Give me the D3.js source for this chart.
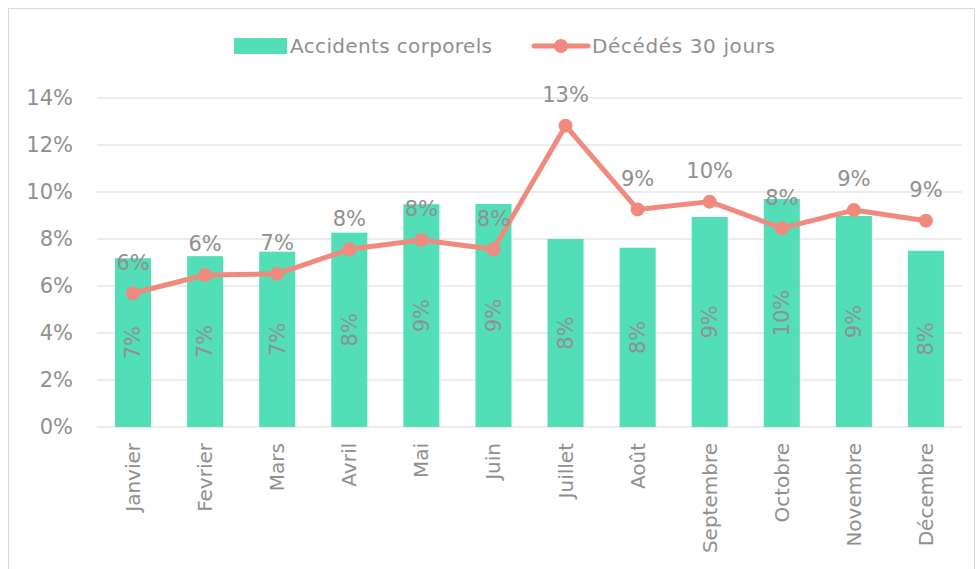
<!DOCTYPE html>
<html>
<head>
<meta charset="utf-8">
<script src="https://cdn.jsdelivr.net/npm/d3@7"></script>
<style>
  body { margin: 0; background: #fff; }
  text { font-family: "DejaVu Sans", Verdana, sans-serif; }
</style>
</head>
<body>
<svg width="978" height="569"></svg>
<script>
var months = ["Janvier", "Fevrier", "Mars", "Avril", "Mai", "Juin", "Juillet", "Août", "Septembre", "Octobre", "Novembre", "Décembre"];
var accidents = [7.18, 7.27, 7.46, 8.27, 9.48, 9.49, 8.0, 7.63, 8.94, 9.7, 8.98, 7.5];
var deces = [5.69, 6.47, 6.52, 7.56, 7.96, 7.56, 12.82, 9.26, 9.59, 8.46, 9.23, 8.78];
var yTicks = [0, 2, 4, 6, 8, 10, 12, 14];
var seriesNames = ["Accidents corporels", "Décédés 30 jours"];

var barColor = "#52dfb8", lineColor = "#f08a7e", textColor = "#8f8f8f";

var svg = d3.select("svg"),
    margin = {top: 98, right: 16, bottom: 142, left: 97},
    width = 962 - margin.left,
    height = 427 - margin.top;

svg.append("rect")
    .attr("x", 8.5).attr("y", 8.5)
    .attr("width", 966).attr("height", 570)
    .attr("fill", "none").attr("stroke", "#d9d9d9");

var g = svg.append("g").attr("transform", "translate(" + margin.left + "," + margin.top + ")");

var x = d3.scaleBand().domain(months).range([0, width]).paddingInner(0.5).paddingOuter(0.25);
var y = d3.scaleLinear().domain([0, 14]).range([height, 0]);
var pct = function(v) { return Math.round(v) + "%"; };

// grid
g.selectAll(".grid")
  .data(yTicks)
  .enter().append("line")
    .attr("x1", 0).attr("x2", width)
    .attr("y1", function(d) { return y(d); })
    .attr("y2", function(d) { return y(d); })
    .attr("stroke", "#e6e6e6").attr("stroke-width", 1.5);

// y axis labels
var yAxis = g.append("g").call(d3.axisLeft(y).tickValues(yTicks).tickSize(0).tickPadding(24).tickFormat(function(d) { return d + "%"; }));
yAxis.select(".domain").remove();
yAxis.selectAll("text").attr("fill", textColor).style("font-size", "21px");

// x axis labels
var xAxis = g.append("g").attr("transform", "translate(0," + height + ")")
    .call(d3.axisBottom(x).tickSize(0));
xAxis.select(".domain").remove();
xAxis.selectAll("text")
    .attr("fill", textColor).style("font-size", "20px")
    .attr("transform", "rotate(-90)")
    .attr("text-anchor", "end")
    .attr("x", -16).attr("y", 0).attr("dy", "0.35em");

// bars
g.selectAll(".bar")
  .data(accidents)
  .enter().append("rect")
    .attr("x", function(d, i) { return x(months[i]); })
    .attr("y", function(d) { return y(d); })
    .attr("width", x.bandwidth())
    .attr("height", function(d) { return height - y(d); })
    .attr("fill", barColor);

g.selectAll(".barlabel")
  .data(accidents)
  .enter().append("text")
    .attr("transform", function(d, i) {
      return "translate(" + (x(months[i]) + x.bandwidth() / 2) + "," + ((y(d) + height) / 2) + ") rotate(-90)";
    })
    .attr("text-anchor", "middle").attr("dy", "0.35em")
    .attr("fill", textColor).style("font-size", "21px")
    .text(pct);

// line
var line = d3.line()
    .x(function(d, i) { return x(months[i]) + x.bandwidth() / 2; })
    .y(function(d) { return y(d); });

g.append("path").datum(deces)
    .attr("d", line)
    .attr("fill", "none").attr("stroke", lineColor)
    .attr("stroke-width", 5).attr("stroke-linejoin", "round");

g.selectAll(".dot")
  .data(deces)
  .enter().append("circle")
    .attr("cx", function(d, i) { return x(months[i]) + x.bandwidth() / 2; })
    .attr("cy", function(d) { return y(d); })
    .attr("r", 7).attr("fill", lineColor);

g.selectAll(".linelabel")
  .data(deces)
  .enter().append("text")
    .attr("x", function(d, i) { return x(months[i]) + x.bandwidth() / 2; })
    .attr("y", function(d) { return y(d) - 31; })
    .attr("text-anchor", "middle").attr("dy", "0.35em")
    .attr("fill", textColor).style("font-size", "21px")
    .text(pct);

// legend
var leg = svg.append("g");
leg.append("rect").attr("x", 234).attr("y", 38).attr("width", 53).attr("height", 16).attr("fill", barColor);
leg.append("text").attr("x", 290).attr("y", 46).attr("dy", "0.35em")
    .attr("fill", textColor).style("font-size", "20px").attr("textLength", 202).text(seriesNames[0]);
leg.append("line").attr("x1", 534).attr("x2", 588).attr("y1", 46).attr("y2", 46)
    .attr("stroke", lineColor).attr("stroke-width", 5).attr("stroke-linecap", "round");
leg.append("circle").attr("cx", 561).attr("cy", 46).attr("r", 7).attr("fill", lineColor);
leg.append("text").attr("x", 592).attr("y", 46).attr("dy", "0.35em")
    .attr("fill", textColor).style("font-size", "20px").attr("textLength", 183).text(seriesNames[1]);
</script>
</body>
</html>
